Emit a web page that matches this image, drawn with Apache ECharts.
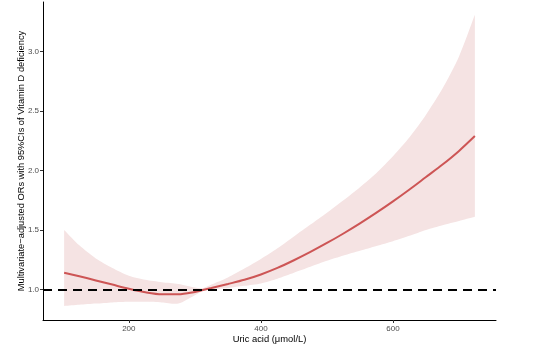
<!DOCTYPE html>
<html>
	<head>
		<meta charset="utf-8">
		<title></title>
		<script src="https://cdn.jsdelivr.net/npm/echarts@6/dist/echarts.min.js"></script>
	</head>
	<body style="margin:0">
		<div id="main" style="width: 538px;height:353px;"></div>
		<script>
			// uric acid values (µmol/L)
			var uric = [102, 125, 150, 175, 200, 225, 250, 275, 300, 312, 325, 350, 375, 400, 425, 450, 475, 500, 525, 550, 575, 600, 625, 650, 675, 700, 724];
			// adjusted OR
			var orVal = [1.14, 1.11, 1.075, 1.04, 1.005, 0.975, 0.958, 0.958, 0.978, 0.995, 1.012, 1.045, 1.08, 1.125, 1.18, 1.245, 1.315, 1.39, 1.47, 1.555, 1.645, 1.74, 1.84, 1.945, 2.05, 2.165, 2.29];
			// 95% CI
			var upper = [1.50, 1.37, 1.26, 1.18, 1.115, 1.08, 1.06, 1.045, 1.015, 1.01, 1.04, 1.10, 1.175, 1.255, 1.345, 1.445, 1.545, 1.645, 1.75, 1.86, 1.98, 2.12, 2.28, 2.47, 2.69, 2.96, 3.31];
			var lower = [0.86, 0.87, 0.88, 0.89, 0.895, 0.895, 0.89, 0.88, 0.95, 0.985, 1.0, 1.012, 1.03, 1.05, 1.09, 1.14, 1.19, 1.24, 1.285, 1.325, 1.365, 1.405, 1.45, 1.5, 1.54, 1.575, 1.61];
			var yTicks = [1.0, 1.5, 2.0, 2.5, 3.0];
			var xTicks = [200, 400, 600];

			var myChart = echarts.init(document.getElementById('main'));
			var font = 'Liberation Sans';
			// confidence band as one polygon: upper edge left->right, lower edge right->left
			// end points are repeated so the smoothing keeps the corners square
			var upEdge = uric.map(function (x, i) { return [x, upper[i]]; });
			var lowEdge = uric.map(function (x, i) { return [x, lower[i]]; }).reverse();
			var band = [upEdge[0]].concat(upEdge, [upEdge[upEdge.length - 1]], [lowEdge[0]], lowEdge, [lowEdge[lowEdge.length - 1]]);

			option = {
				animation: false,
				grid: { left: 43, right: 42, top: 2, bottom: 33 },
				xAxis: {
					type: 'value',
					min: 70, max: 756,
					name: 'Uric acid (μmol/L)',
					nameLocation: 'middle',
					nameGap: 15,
					nameMoveOverlap: false,
					nameTextStyle: { fontFamily: font, fontSize: 9.4, color: '#000' },
					axisLine: { lineStyle: { color: '#000', width: 1 } },
					axisTick: { customValues: xTicks, length: 3, lineStyle: { color: '#333' } },
					axisLabel: { customValues: xTicks, fontFamily: font, fontSize: 8, color: '#4d4d4d', margin: 5 },
					splitLine: { show: false }
				},
				yAxis: {
					type: 'value',
					min: 0.742, max: 3.418,
					name: 'Multivariate−adjusted ORs with 95%CIs of Vitamin D deficiency',
					nameLocation: 'middle',
					nameGap: 17,
					nameMoveOverlap: false,
					nameTextStyle: { fontFamily: font, fontSize: 9.3, color: '#000' },
					axisLine: { show: true, lineStyle: { color: '#000', width: 1 } },
					axisTick: { show: true, customValues: yTicks, length: 3, lineStyle: { color: '#333' } },
					axisLabel: { customValues: yTicks, fontFamily: font, fontSize: 8, color: '#4d4d4d', margin: 4,
						formatter: function (v) { return v.toFixed(1); } },
					splitLine: { show: false }
				},
				series: [
					{
						type: 'custom',
						data: [0],
						silent: true,
						renderItem: function (params, api) {
							return {
								type: 'polygon',
								shape: { points: band.map(function (p) { return api.coord(p); }), smooth: 0.25 },
								style: { fill: '#f5e3e3' }
							};
						},
						z: 1
					},
					{
						type: 'line', symbol: 'none', smooth: 0.3,
						data: uric.map(function (x, i) { return [x, orVal[i]]; }),
						lineStyle: { color: '#cd5555', width: 2 },
						markLine: {
							silent: true, symbol: 'none', label: { show: false },
							lineStyle: { color: '#000', type: [9, 6], width: 2 },
							data: [{ yAxis: 1 }]
						},
						z: 3
					}
				]
			};
			myChart.setOption(option);
		</script>
	</body>
</html>
